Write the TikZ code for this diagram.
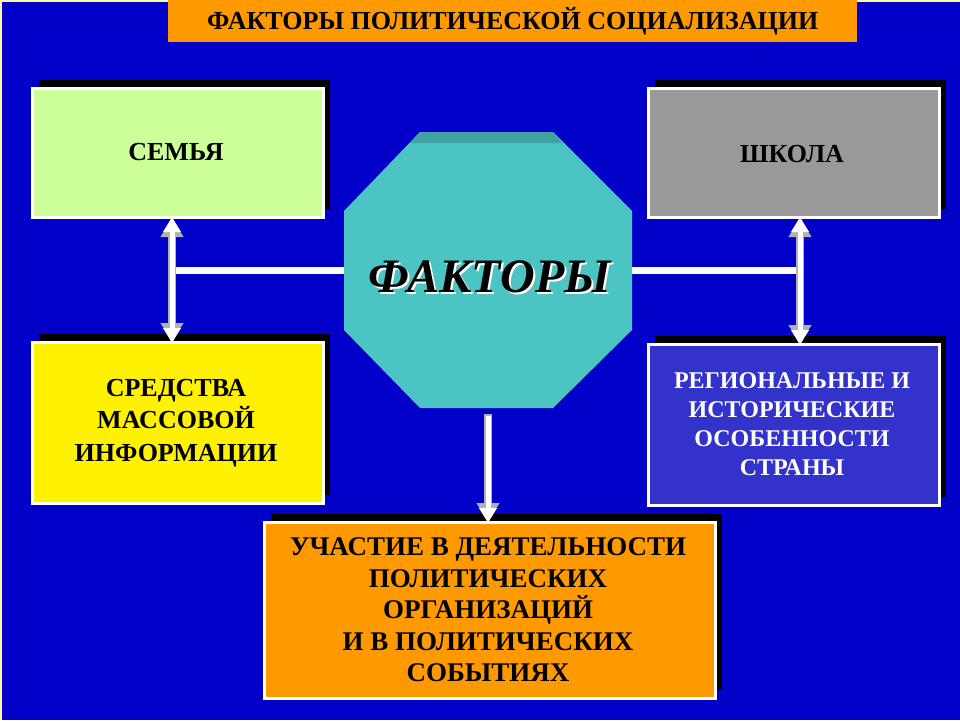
\documentclass[tikz,border=0pt]{standalone}
\usepackage{fontspec}
\setmainfont{Liberation Serif}
\usetikzlibrary{arrows.meta}
\definecolor{bg}{HTML}{0000C8}
\definecolor{orng}{HTML}{FF9900}
\definecolor{lgreen}{HTML}{CCFF99}
\definecolor{gry}{HTML}{999999}
\definecolor{rblue}{HTML}{3333CC}
\definecolor{teal1}{HTML}{4CC4C4}
\definecolor{teal2}{HTML}{3FA3A3}
\tikzset{
 box/.style={draw=white,line width=3pt,align=center},
 conn/.style={white,line width=7pt},
 arr/.style={draw=gray!60,line width=8pt},
 arrin/.style={white,line width=5pt},
 bt/.style={font=\bfseries\fontsize{26}{32.5}\selectfont,align=center},
 tipo/.tip={Triangle[length=18pt,width=22pt]},
 tipi/.tip={Triangle[length=15pt,width=17pt]},
}
\newcommand{\mybox}[6]{%
 \fill[black] (#1+8,#2-7) rectangle (#3+8,#4-7);
 \node[box,fill=#5,minimum width=#3-#1,minimum height=#4-#2,anchor=north west] (#6) at (#1,#2) {};}
\begin{document}
\begin{tikzpicture}[x=1pt,y=-1pt]
\useasboundingbox (0,0) rectangle (960,720);
\fill[bg] (0,0) rectangle (960,720);
\draw[yellow!40,line width=2pt] (1,720) -- (1,1) -- (960,1);
\node[fill=orng,minimum width=689,minimum height=42,anchor=north west,inner sep=0,font=\bfseries\fontsize{26}{28}\selectfont] (title) at (168,0) {ФАКТОРЫ ПОЛИТИЧЕСКОЙ СОЦИАЛИЗАЦИИ};
% connectors
\draw[conn] (172,270) coordinate (l1) -- (350,270);
\draw[conn] (626,270) -- (800,270) coordinate (r1);
\mybox{31}{87}{322}{216}{lgreen}{sem}
\mybox{647}{87}{938}{216}{gry}{shk}
\mybox{31}{341}{322}{502}{yellow}{smi}
\mybox{647}{343}{938}{504}{rblue}{reg}
\mybox{263}{521}{714}{697}{orng}{uch}
\node[bt] at (176,152) {СЕМЬЯ};
\node[bt] at (792,154) {ШКОЛА};
\node[bt] at (176,423) {СРЕДСТВА\\МАССОВОЙ\\ИНФОРМАЦИИ};
\node[align=center,white,font=\bfseries\fontsize{24}{29}\selectfont] at (792,424) {РЕГИОНАЛЬНЫЕ И\\ИСТОРИЧЕСКИЕ\\ОСОБЕННОСТИ\\СТРАНЫ};
\node[align=center,font=\bfseries\fontsize{27}{31.5}\selectfont] at (488,610) {УЧАСТИЕ В ДЕЯТЕЛЬНОСТИ\\ПОЛИТИЧЕСКИХ\\ОРГАНИЗАЦИЙ\\И В ПОЛИТИЧЕСКИХ\\СОБЫТИЯХ};
% arrows
\draw[arr,{tipo}-{tipo}] (sem.south -| l1) -- (smi.north -| l1);
\draw[arrin,{tipi}-{tipi}] ([yshift=2]sem.south -| l1) -- ([yshift=-2]smi.north -| l1);
\draw[arr,{tipo}-{tipo}] (shk.south -| r1) -- (reg.north -| r1);
\draw[arrin,{tipi}-{tipi}] ([yshift=2]shk.south -| r1) -- ([yshift=-2]reg.north -| r1);
% octagon
\fill[teal1] (420,132) -- (553,132) -- (632,211) -- (632,330) -- (553,408) -- (420,408) -- (344,330) -- (344,211) -- cycle;
\fill[teal2] (420,132) -- (553,132) -- (562,143) -- (410,143) -- cycle;
\coordinate (oct) at (488,408);
\draw[arr,-{tipo}] (oct) ++(0,6) -- (uch.north -| oct);
\draw[arrin,-{tipi}] (oct) ++(0,8) -- ([yshift=-2]uch.north -| oct);
\node[white,font=\bfseries\itshape\fontsize{48}{50}\selectfont] at (492,279) {ФАКТОРЫ};
\node[black,font=\bfseries\itshape\fontsize{48}{50}\selectfont] (fak) at (490,277) {ФАКТОРЫ};
\end{tikzpicture}
\end{document}
